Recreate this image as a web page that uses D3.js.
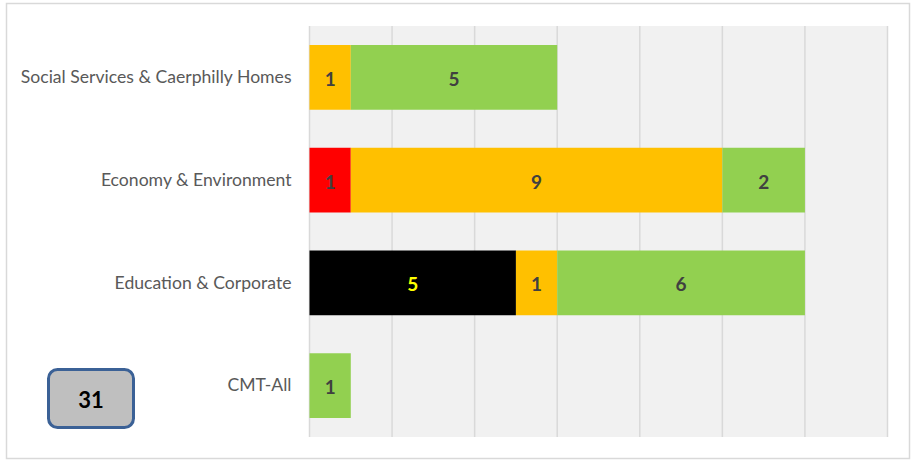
<!DOCTYPE html>
<html><head><meta charset="utf-8">
<script src="https://cdn.jsdelivr.net/npm/d3@7"></script>
<style>body{margin:0;background:#fff;}svg{display:block;}</style>
</head><body>
<script>
const categories = ["Social Services & Caerphilly Homes","Economy & Environment","Education & Corporate","CMT-All"];
const seriesNames = ["Black","Red","Amber","Green"];
const blackVals = [0,0,5,0];
const redVals   = [0,1,0,0];
const amberVals = [1,9,1,0];
const greenVals = [5,2,6,1];
const seriesColors = ["#000000","#ff0000","#ffc000","#92d050"];
const labelColors = ["#ffff00","#404040","#404040","#404040"];
const xTicks = [0,2,4,6,8,10,12,14];
const totalLabel = "31";

const W=916,H=461;
const svg=d3.select("body").append("svg").attr("width",W).attr("height",H);
svg.append("rect").attr("x",6.5).attr("y",3.5).attr("width",903).attr("height",455)
  .attr("fill","#fff").attr("stroke","#d9d9d9").attr("stroke-width",1.5);

const m={l:309.5,r:887.5,t:26,b:437};
const x=d3.scaleLinear().domain([0,14]).range([m.l,m.r]);
const y=d3.scaleBand().domain(categories).range([m.t,m.b]).paddingInner(0.37).paddingOuter(0.185);

svg.append("rect").attr("x",m.l).attr("y",m.t).attr("width",m.r-m.l).attr("height",m.b-m.t).attr("fill","#f1f1f1");
svg.append("g").selectAll("line").data(xTicks).join("line")
  .attr("x1",d=>x(d)).attr("x2",d=>x(d)).attr("y1",m.t).attr("y2",m.b)
  .attr("stroke","#d9d9d9").attr("stroke-width",1.5);

const table=categories.map((c,i)=>({cat:c,Black:blackVals[i],Red:redVals[i],Amber:amberVals[i],Green:greenVals[i]}));
const stacked=d3.stack().keys(seriesNames)(table);

stacked.forEach((s,si)=>{
  const g=svg.append("g");
  s.forEach(d=>{
    const v=d[1]-d[0];
    if(v<=0) return;
    g.append("rect").attr("x",x(d[0])).attr("y",y(d.data.cat)).attr("width",x(d[1])-x(d[0])).attr("height",y.bandwidth())
      .attr("fill",seriesColors[si]);
    g.append("text").attr("x",(x(d[0])+x(d[1]))/2).attr("y",y(d.data.cat)+y.bandwidth()/2+1)
      .attr("text-anchor","middle").attr("dominant-baseline","central")
      .attr("font-family","Lato, 'Open Sans', sans-serif").attr("font-weight","bold").attr("font-size",19)
      .attr("fill",labelColors[si]).text(v);
  });
});

const yAxis=svg.append("g").attr("transform",`translate(${m.l},0)`).call(d3.axisLeft(y).tickSize(0).tickPadding(18));
yAxis.select(".domain").remove();
yAxis.selectAll("text").attr("font-family","Lato, 'Open Sans', sans-serif").attr("font-size",17.6).attr("fill","#595959");

svg.append("rect").attr("x",48.5).attr("y",369.5).attr("width",85).attr("height",58).attr("rx",9)
  .attr("fill","#bfbfbf").attr("stroke","#3b6196").attr("stroke-width",3);
svg.append("text").attr("x",91).attr("y",399).attr("text-anchor","middle").attr("dominant-baseline","central")
  .attr("font-family","Lato, 'Open Sans', sans-serif").attr("font-weight","bold").attr("font-size",22).attr("fill","#000").text(totalLabel);
</script>
</body></html>
